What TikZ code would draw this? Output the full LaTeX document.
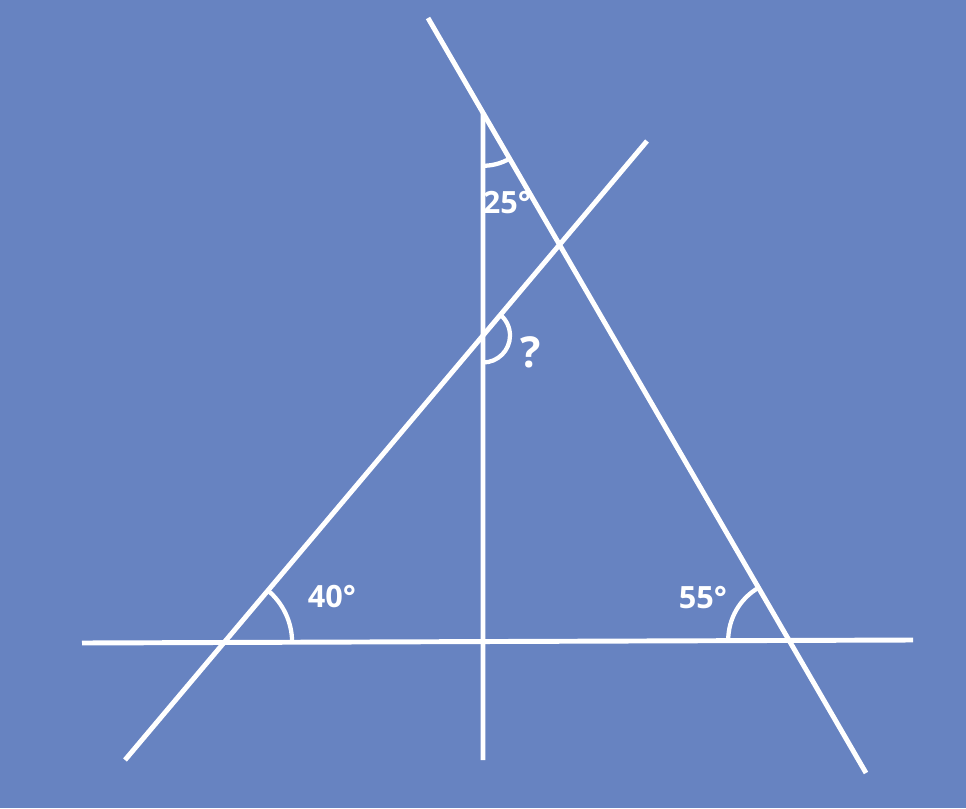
\documentclass[tikz,border=0pt]{standalone}
\usepackage{fontspec}
\setmainfont{Open Sans}
\definecolor{bgblue}{RGB}{103,131,193}
\begin{document}
\begin{tikzpicture}[x=0.75pt,y=0.75pt,
  ln/.style={draw=white,line width=3.7pt},
  angarc/.style={draw=white,line width=3.2pt},
  lbl/.style={text=white,font=\bfseries\fontsize{23}{23}\selectfont,inner sep=0pt}]
\fill[bgblue] (0,0) rectangle (966,808);
\useasboundingbox (0,0) rectangle (966,808);
% end points
\coordinate (H1) at (82,165);
\coordinate (H2) at (913,168);
\coordinate (S1) at (428,790);
\coordinate (S2) at (866,35);
\coordinate (R1) at (125,48);
\coordinate (R2) at (647,667);
\coordinate (Vb) at (483,48);
\coordinate (Vt) at (483,800);
% intersections
\coordinate (T) at (intersection of S1--S2 and Vb--Vt);
\coordinate (Q) at (intersection of R1--R2 and Vb--Vt);
\coordinate (A) at (intersection of R1--R2 and H1--H2);
\coordinate (B) at (intersection of S1--S2 and H1--H2);
% lines
\draw[ln] (H1) -- (H2);
\draw[ln] (T) -- (Vb);
\draw[ln] (S1) -- (S2);
\draw[ln] (R1) -- (R2);
% angle arcs
\draw[angarc] ([shift={(-90:53)}]T) arc[start angle=-90,end angle=-59.9,radius=53];
\draw[angarc] ([shift={(-90:27)}]Q) arc[start angle=-90,end angle=49.9,radius=27];
\draw[angarc] ([shift={(0:68)}]A) arc[start angle=0,end angle=49.9,radius=68];
\draw[angarc] ([shift={(120.1:61)}]B) arc[start angle=120.1,end angle=180,radius=61];
% labels
\node[lbl] (l25) at (507,605) {25°};
\node[lbl,font=\bfseries\fontsize{32}{32}\selectfont] (lq) at (531,456) {?};
\node[lbl] (l40) at (332,211) {40°};
\node[lbl] (l55) at (703,210) {55°};
\end{tikzpicture}
\end{document}
